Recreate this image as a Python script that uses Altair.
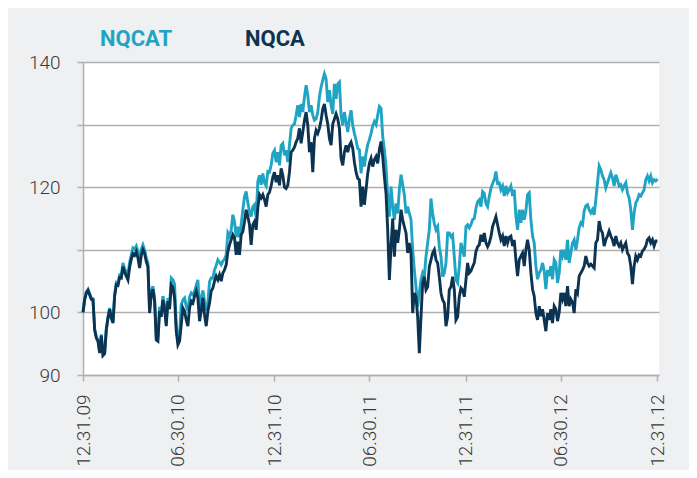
import altair as alt
import pandas as pd

SERIES = ["NQCAT", "NQCA"]
COLORS = ["#1fa4c4", "#0c3452"]
START, END = "2009-12-31", "2012-12-31"
TICK_DATES = [(2009, 12, 31), (2010, 6, 30), (2010, 12, 31), (2011, 6, 30),
              (2011, 12, 31), (2012, 6, 30), (2012, 12, 31)]
Y_TICKS = [90, 100, 110, 120, 130, 140]
Y_LABELED = [90, 100, 120, 140]

NQCAT = [
    # Jan 2010 - Jul 2010
    100.0, 102.2, 103.3, 103.7, 103.0, 102.3, 102.2, 97.4, 96.1, 95.6,
    93.7, 96.5, 93.3, 93.6, 97.4, 99.3, 100.7, 99.3, 98.5, 102.8,
    104.8, 104.7, 106.0, 105.9,
    107.9, 107.0, 106.5, 106.0, 108.0, 109.2, 110.3, 110.1, 110.6, 109.7,
    107.9, 110.1, 110.8, 110.0, 108.7, 107.9, 100.4, 103.4, 104.2, 102.3,
    96.2, 96.2, 100.9, 99.9, 102.6, 101.2, 98.3, 102.3, 101.2, 105.5, 105.2,
    # Jul 2010 - Jan 2011
    104.5, 98.0, 95.2, 96.5, 101.2, 102.0, 102.3, 101.0, 100.2, 102.5,
    103.1, 102.8, 103.4, 104.3, 105.2, 100.5, 102.3, 103.5, 101.8, 100.3,
    101.5, 104.9, 105.5, 105.5, 106.8, 107.5, 108.4, 108.0, 107.6, 108.2,
    108.5, 109.2, 112.7, 112.2, 113.2, 115.6, 114.5, 112.0, 113.7, 112.0,
    114.0, 116.4, 118.5, 119.3, 117.5, 116.1, 115.3, 116.9, 117.2, 115.1,
    120.9, 121.9, 120.4, 122.2, 120.7, 120.2, 122.5,
    # Jan 2011 - Jun 2011
    122.4, 123.5, 125.4, 125.9, 124.0, 125.6, 123.5, 126.7, 127.0, 125.1,
    125.9, 124.0, 126.7, 129.4, 129.9, 130.1, 131.5, 133.1, 131.2, 133.3,
    132.0, 134.4, 136.3, 134.7, 132.0, 133.1, 131.5, 130.7, 130.9, 132.0,
    134.4, 136.0, 137.1, 138.1, 137.3, 133.6, 135.5, 133.1, 131.7, 136.5,
    134.1, 136.5, 136.8, 131.5, 129.9, 132.0, 130.4, 128.8, 130.9, 132.3,
    129.9, 128.6, 127.5, 126.2,
    # Jun 2011 - Feb 2012
    126.0, 122.2, 124.9, 123.3, 125.4, 126.8, 127.6, 128.6, 129.8, 130.5,
    130.0, 131.5, 132.9, 132.6, 128.1, 126.0, 123.3, 118.5, 115.3, 120.1,
    116.9, 114.8, 117.4, 115.8, 119.6, 122.0, 120.4, 118.8, 115.8, 116.9,
    115.8, 114.8, 110.0, 106.8, 104.1, 100.9, 103.1, 105.2, 106.3, 105.7,
    108.9, 111.1, 113.2, 118.2, 115.8, 114.2, 113.2, 113.7, 110.5, 108.9,
    105.7, 106.3, 107.9, 112.7, 112.7, 112.1, 112.4, 108.9, 105.2, 104.7,
    107.3, 111.1, 110.0, 108.9, 113.7, 114.0, 113.5, 114.0, 114.8, 115.0,
    116.6, 117.7, 118.0, 116.9, 119.3, 119.0, 117.4, 116.9, 118.5, 119.8,
    120.6, 121.2, 122.5, 120.6,
    # Feb 2012 - Dec 2012
    120.7, 119.6, 120.2, 118.6, 120.2, 119.1, 119.6, 120.2, 118.6, 119.6,
    115.4, 113.2, 116.4, 114.3, 116.4, 114.8, 116.2, 118.8, 119.1, 114.8,
    112.2, 111.1, 107.4, 105.3, 106.3, 106.8, 107.9, 106.6, 103.7, 106.8,
    105.8, 107.4, 105.3, 108.4, 107.9, 104.7, 106.3, 110.0, 109.0, 110.0,
    108.4, 111.6, 107.9, 109.5, 111.1, 111.6, 110.0, 111.6, 113.5, 114.3,
    114.0, 116.2, 117.0, 117.2, 116.4, 115.9, 116.4, 115.6, 118.0, 120.7,
    123.4, 122.8, 121.8, 121.2, 119.9, 120.7, 121.5, 122.3, 121.5, 120.2,
    122.0, 121.2, 120.2, 120.4, 119.6, 120.2, 120.7, 119.1, 118.3, 116.4,
    113.2, 115.9, 117.5, 118.0, 118.8, 118.6, 119.1, 119.6, 121.2, 121.8,
    121.0, 121.8, 120.7, 121.2, 121.0, 121.3,
]

NQCA = [
    # Jan 2010 - Jul 2010
    100.0, 102.0, 103.1, 103.5, 102.8, 102.1, 102.0, 97.2, 95.9, 95.4,
    93.5, 96.3, 93.1, 93.4, 97.2, 99.1, 100.5, 99.1, 98.3, 102.6,
    104.4, 104.3, 105.6, 105.5, 107.3, 106.4, 105.8, 105.2, 107.2, 108.5,
    109.4, 109.1, 109.7, 108.7, 107.1, 109.1, 110.0, 109.4, 108.1, 107.3,
    99.9, 102.8, 103.7, 101.8, 95.6, 95.4, 100.2, 99.3, 102.0, 100.5,
    97.8, 101.8, 100.5, 104.4, 104.0,
    # Jul 2010 - Jan 2011
    102.3, 97.0, 94.8, 95.4, 98.0, 100.7, 100.2, 98.8, 97.8, 100.7,
    101.8, 101.5, 102.6, 103.4, 102.3, 98.6, 100.2, 102.3, 99.6, 97.8,
    100.2, 101.5, 103.4, 103.9, 105.0, 105.8, 105.2, 106.0, 105.0, 106.3,
    106.8, 107.6, 109.7, 110.8, 111.6, 112.4, 111.9, 109.2, 111.3, 109.2,
    112.4, 112.9, 114.5, 116.4, 115.3, 114.0, 110.8, 114.0, 114.5, 113.2,
    116.7, 118.8, 118.3, 118.8, 118.0, 116.9, 118.8,
    # Jan 2011 - Jun 2011
    119.2, 120.2, 121.6, 122.4, 120.8, 121.9, 120.3, 123.0, 121.9, 120.0,
    119.8, 120.3, 122.4, 125.6, 125.9, 126.4, 127.2, 127.8, 129.4, 127.0,
    128.8, 130.7, 132.0, 129.9, 125.6, 127.2, 122.4, 127.8, 129.1, 128.6,
    129.4, 130.7, 132.5, 133.3, 131.5, 130.1, 127.8, 126.7, 130.1, 130.9,
    131.7, 130.9, 129.4, 124.6, 123.5, 125.6, 126.7, 125.6, 126.7, 127.2,
    126.2, 124.0, 122.4, 121.4,
    # Jun 2011 - Feb 2012
    121.2, 116.9, 120.1, 117.2, 119.6, 122.2, 123.8, 124.6, 123.3, 124.4,
    124.9, 123.8, 126.0, 127.3, 124.9, 121.7, 119.0, 113.2, 105.2, 110.5,
    115.0, 108.9, 113.2, 111.1, 113.2, 116.4, 114.8, 113.7, 112.7, 109.5,
    111.1, 109.5, 99.9, 103.1, 102.5, 99.3, 93.5, 99.3, 104.7, 105.7,
    103.6, 104.1, 107.3, 108.4, 109.5, 110.0, 108.4, 107.9, 105.7, 103.1,
    102.0, 101.5, 97.8, 99.3, 103.6, 104.1, 105.7, 103.6, 98.8, 99.3,
    102.5, 103.9, 103.6, 102.5, 105.2, 107.9, 106.3, 106.6, 107.3, 107.9,
    109.7, 110.5, 110.8, 112.4, 111.3, 112.7, 111.1, 110.5, 111.1, 112.1,
    113.7, 114.5, 115.3, 114.0,
    # Feb 2012 - Dec 2012
    112.7, 111.6, 112.2, 110.6, 112.2, 111.1, 112.0, 112.2, 110.6, 111.6,
    108.4, 105.8, 108.4, 109.0, 109.5, 107.4, 110.0, 111.6, 110.0, 106.3,
    103.7, 102.6, 99.9, 98.8, 101.0, 99.4, 100.5, 98.8, 97.0, 99.9,
    98.8, 100.5, 98.3, 101.0, 100.5, 98.6, 100.0, 103.1, 102.1, 103.1,
    101.0, 104.2, 101.0, 102.1, 101.6, 99.9, 103.7, 103.1, 105.8, 106.3,
    106.8, 107.4, 109.0, 107.9, 107.4, 107.7, 107.4, 107.1, 111.1, 111.6,
    114.6, 113.2, 112.7, 110.6, 111.6, 112.2, 113.0, 112.2, 111.6, 110.6,
    112.2, 111.1, 110.6, 111.1, 110.0, 110.6, 111.1, 109.5, 109.0, 107.4,
    104.5, 107.4, 109.0, 108.4, 109.2, 109.0, 109.8, 110.1, 110.6, 111.6,
    111.9, 111.1, 111.6, 110.6, 111.4, 111.4,
]

FONT = "Roboto"
GRID = "#b0b0b0"

dates = pd.date_range(START, END, periods=len(NQCA))
df = pd.concat([
    pd.DataFrame({"date": dates, "value": NQCAT, "series": SERIES[0]}),
    pd.DataFrame({"date": dates, "value": NQCA, "series": SERIES[1]}),
], ignore_index=True)
leg = pd.DataFrame({"series": SERIES})

color = alt.Color("series:N", scale=alt.Scale(domain=SERIES, range=COLORS), legend=None)

x = alt.X(
    "date:T",
    title=None,
    scale=alt.Scale(domain=[alt.DateTime(year=2009, month=12, date=31),
                            alt.DateTime(year=2013, month=1, date=3)]),
    axis=alt.Axis(
        values=[alt.DateTime(year=y, month=m, date=d) for (y, m, d) in TICK_DATES],
        format="%m.%d.%y", labelAngle=270, grid=False,
        tickSize=6, labelPadding=13,
    ),
)
labeled = ",".join(str(v) for v in Y_LABELED)
y = alt.Y(
    "value:Q",
    title=None,
    scale=alt.Scale(domain=[90, 140], nice=False, zero=False),
    axis=alt.Axis(
        values=Y_TICKS, grid=True, tickSize=6, labelPadding=17,
        labelExpr=f"indexof([{labeled}], datum.value) >= 0 ? datum.label : ''",
    ),
)

base = alt.Chart(df)
teal = base.transform_filter(alt.datum.series == SERIES[0]).mark_line(strokeWidth=2.9).encode(x=x, y=y, color=color)
dark = base.transform_filter(alt.datum.series == SERIES[1]).mark_line(strokeWidth=2.9).encode(x=x, y=y, color=color)

def legend_text(name, px):
    return alt.Chart(leg).transform_filter(alt.datum.series == name).mark_text(
        align="left", baseline="alphabetic", font=FONT, fontSize=22, fontWeight="bold"
    ).encode(text="series:N", color=color, x=alt.value(px), y=alt.value(-16))

chart = alt.layer(teal, dark, legend_text(SERIES[0], 17), legend_text(SERIES[1], 162)).properties(
    width=576, height=313,
    background="#eff0f2",
    padding={"left": 75, "top": 54, "right": 30, "bottom": 95},
    autosize=alt.AutoSizeParams(type="none"),
).configure_view(
    fill="#ffffff", strokeWidth=0,
).configure_axis(
    domainColor=GRID, domainWidth=1.5, tickColor=GRID, tickWidth=1.5,
    gridColor=GRID, gridWidth=1.5,
    labelFont=FONT, labelFontSize=19, labelFontWeight=300, labelColor="#3a3a3a",
)

chart.save("out.html", embed_options={"renderer": "svg", "actions": False})
